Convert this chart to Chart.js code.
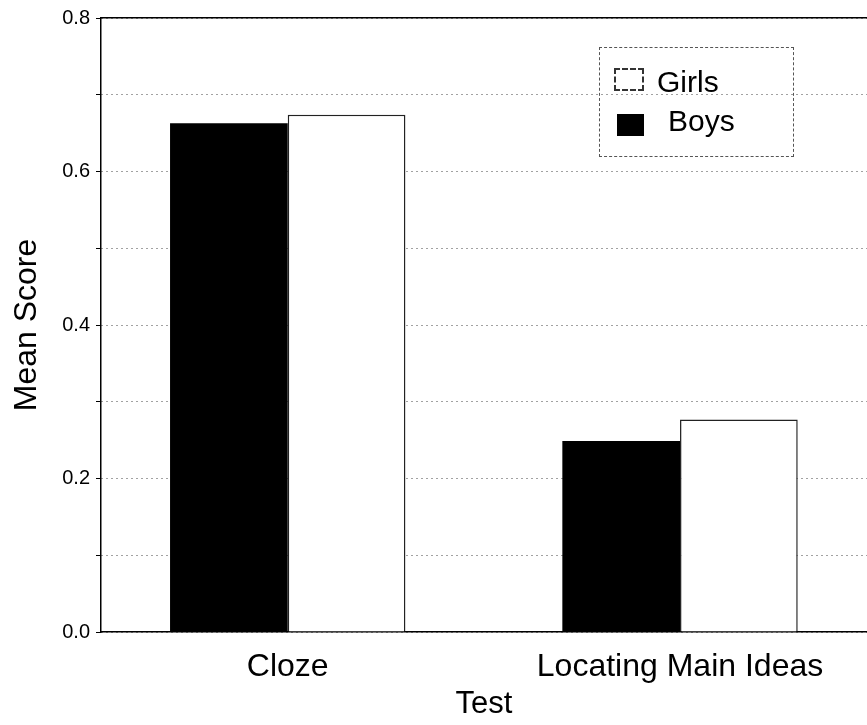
<!DOCTYPE html>
<html>
<head>
<meta charset="utf-8">
<script src="https://cdn.jsdelivr.net/npm/chart.js@4"></script>
<style>
  html, body { margin: 0; padding: 0; background: #fff; overflow: hidden; }
  #wrap { position: relative; width: 867px; height: 725px; }
  #chart { position: absolute; left: 0; top: 0; }
  #legend { position: absolute; left: 599px; top: 47px; width: 195px; height: 110px;
            border: 1px dashed #555; box-sizing: border-box;
            font-family: "Liberation Sans", Arial, sans-serif; font-size: 30px; color: #000; }
  .sw { position: absolute; box-sizing: border-box; }
  .lt { position: absolute; line-height: 30px; white-space: nowrap; }
</style>
</head>
<body>
<div id="wrap">
  <canvas id="chart" width="867" height="725"></canvas>
  <div id="legend"></div>
</div>
<script>
// ---- data ----
const categories = ['Cloze', 'Locating Main Ideas'];
const seriesNames = ['Boys', 'Girls'];
const boys = [0.663, 0.249];
const girls = [0.674, 0.277];
const yAxisTitle = 'Mean Score';
const xAxisTitle = 'Test';

const FONT = '"Liberation Sans", Arial, Helvetica, sans-serif';

const toPoints = arr => arr.map((v, i) => ({ x: i, y: v }));

const chart = new Chart(document.getElementById('chart'), {
  type: 'bar',
  data: {
    datasets: [
      { label: seriesNames[0], data: toPoints(boys), backgroundColor: '#000', borderWidth: 0 },
      { label: seriesNames[1], data: toPoints(girls), backgroundColor: '#fff', borderColor: '#222', borderWidth: 1.5 }
    ]
  },
  options: {
    responsive: false,
    animation: false,
    devicePixelRatio: 1,
    layout: { padding: 0 },
    plugins: { legend: { display: false }, tooltip: { enabled: false } },
    datasets: { bar: { categoryPercentage: 0.6, barPercentage: 1.0 } },
    scales: {
      x: {
        type: 'linear',
        position: 'bottom',
        offset: false,
        min: -0.476,
        max: 1.4766,
        afterBuildTicks: s => { s.ticks = categories.map((c, i) => ({ value: i })); },
        afterFit: s => { s.height = 93; },
        grid: { display: false, drawTicks: false, offset: false },
        border: { display: true, color: '#000', width: 1.5 },
        ticks: {
          callback: v => categories[v] ?? '',
          font: { family: FONT, size: 32 },
          color: '#000',
          padding: 16,
          maxRotation: 0,
          autoSkip: false
        },
        title: { display: true, text: xAxisTitle, font: { family: FONT, size: 31 }, color: '#000', padding: { top: 0, bottom: 2 } }
      },
      x2: {
        type: 'linear',
        position: 'top',
        display: true,
        afterFit: s => { s.height = 15; },
        grid: { display: false, drawTicks: false },
        border: { display: true, color: '#000', width: 1.5 },
        ticks: { display: false }
      },
      y: {
        min: 0,
        max: 0.8,
        afterFit: s => { s.width = 101; },
        ticks: {
          stepSize: 0.1,
          callback: v => (Math.round(v * 10) % 2 === 0 ? v.toFixed(1) : ''),
          font: { family: FONT, size: 20 },
          color: '#000',
          padding: 6
        },
        grid: { display: true, color: '#444', lineWidth: 1, drawTicks: true, tickLength: 5, tickColor: '#000', tickWidth: 1, tickBorderDash: [] },
        border: { display: true, color: '#000', width: 1.5, dash: [1, 4] },
        title: { display: true, text: yAxisTitle, font: { family: FONT, size: 32 }, color: '#000', padding: { top: 8, bottom: 0 } }
      }
    }
  }
});

// ---- legend built from chart datasets (Girls listed first, as in the reference) ----
(function buildLegend() {
  const lg = document.getElementById('legend');
  const ds = chart.data.datasets.slice().reverse();
  const layout = [
    { sw: [14, 20, 30, 23], txt: [57, 19] },
    { sw: [17, 66, 27, 22], txt: [68, 58] }
  ];
  ds.forEach((d, i) => {
    const L = layout[i];
    const sw = document.createElement('div');
    sw.className = 'sw';
    sw.style.left = L.sw[0] + 'px'; sw.style.top = L.sw[1] + 'px';
    sw.style.width = L.sw[2] + 'px'; sw.style.height = L.sw[3] + 'px';
    sw.style.background = d.backgroundColor;
    if (d.borderWidth) sw.style.border = '2px dashed #333';
    lg.appendChild(sw);
    const t = document.createElement('div');
    t.className = 'lt';
    t.style.left = L.txt[0] + 'px'; t.style.top = L.txt[1] + 'px';
    t.textContent = d.label;
    lg.appendChild(t);
  });
})();
</script>
</body>
</html>
